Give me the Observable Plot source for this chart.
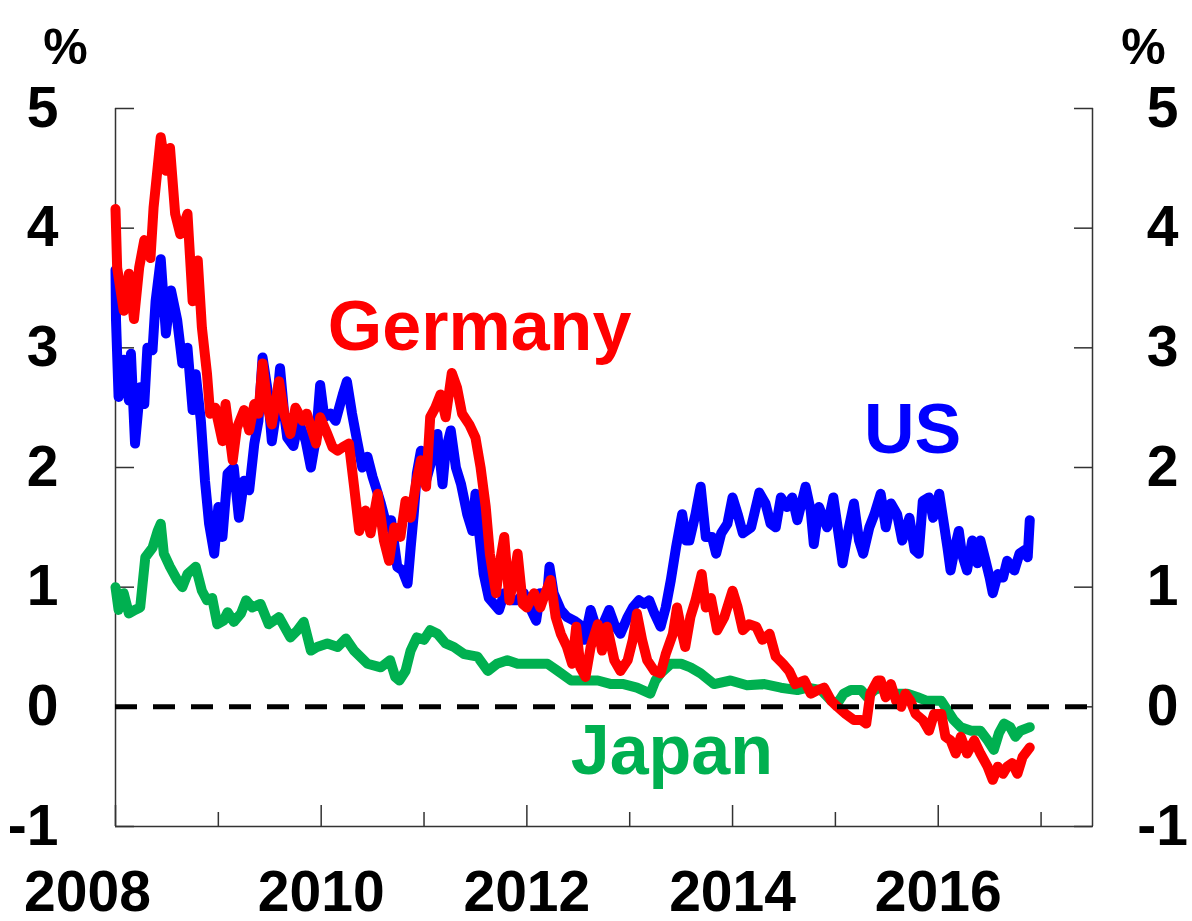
<!DOCTYPE html>
<html>
<head>
<meta charset="utf-8">
<script src="https://cdn.jsdelivr.net/npm/d3@7"></script>
<script src="https://cdn.jsdelivr.net/npm/@observablehq/plot@0.6"></script>
<style>
  html, body { margin: 0; padding: 0; background: #fff; }
  #chart svg { display: block; }
</style>
</head>
<body>
<div id="chart"></div>
<script>
// 10-year government bond yields, % (decimal year, value)
const us = [
  [2008.00,3.65],[2008.005,3.23],[2008.03,2.59],[2008.08,2.9],[2008.13,2.56],[2008.15,2.95],[2008.19,2.2],
  [2008.24,2.67],[2008.28,2.53],[2008.31,3.0],[2008.36,2.98],[2008.39,3.39],[2008.44,3.74],[2008.49,3.12],
  [2008.54,3.48],[2008.60,3.23],[2008.65,2.87],[2008.70,3.0],[2008.75,2.48],[2008.78,2.78],[2008.83,2.39],
  [2008.87,1.89],[2008.91,1.53],[2008.96,1.28],[2009.00,1.67],[2009.04,1.42],[2009.09,1.95],[2009.15,2.0],
  [2009.20,1.58],[2009.25,1.89],[2009.30,1.81],[2009.35,2.2],[2009.39,2.39],[2009.43,2.92],[2009.48,2.64],
  [2009.52,2.22],[2009.56,2.45],[2009.60,2.83],[2009.64,2.45],[2009.67,2.25],[2009.73,2.18],[2009.78,2.39],
  [2009.85,2.22],[2009.90,2.0],[2009.95,2.25],[2009.99,2.69],[2010.03,2.42],[2010.09,2.45],[2010.14,2.39],
  [2010.21,2.61],[2010.25,2.72],[2010.30,2.45],[2010.35,2.22],[2010.40,2.0],[2010.45,2.09],[2010.50,1.92],
  [2010.53,1.84],[2010.58,1.7],[2010.64,1.5],[2010.68,1.56],[2010.74,1.17],[2010.79,1.14],[2010.84,1.03],
  [2010.87,1.33],[2010.90,1.61],[2010.93,1.95],[2010.97,2.14],[2011.02,1.89],[2011.08,2.08],[2011.13,2.28],
  [2011.18,1.86],[2011.21,2.14],[2011.26,2.31],[2011.31,2.0],[2011.36,1.86],[2011.42,1.61],[2011.47,1.47],
  [2011.50,1.78],[2011.53,1.5],[2011.58,1.11],[2011.63,0.91],[2011.68,0.86],[2011.73,0.81],[2011.78,0.95],
  [2011.84,0.89],[2011.91,0.89],[2011.97,0.95],[2012.04,0.81],[2012.09,0.72],[2012.13,0.95],[2012.20,0.95],
  [2012.22,1.17],[2012.26,0.95],[2012.33,0.81],[2012.39,0.75],[2012.46,0.72],[2012.51,0.69],[2012.56,0.56],
  [2012.62,0.81],[2012.67,0.67],[2012.73,0.67],[2012.80,0.81],[2012.85,0.69],[2012.91,0.61],[2012.98,0.75],
  [2013.03,0.83],[2013.09,0.89],[2013.14,0.86],[2013.19,0.89],[2013.24,0.78],[2013.30,0.67],[2013.35,0.83],
  [2013.40,1.06],[2013.45,1.33],[2013.48,1.47],[2013.51,1.61],[2013.55,1.39],[2013.58,1.39],[2013.64,1.61],
  [2013.69,1.84],[2013.74,1.42],[2013.80,1.42],[2013.84,1.28],[2013.89,1.45],[2013.95,1.53],[2014.00,1.75],
  [2014.05,1.61],[2014.10,1.45],[2014.18,1.5],[2014.26,1.79],[2014.32,1.7],[2014.37,1.53],[2014.42,1.5],
  [2014.47,1.75],[2014.53,1.67],[2014.58,1.75],[2014.63,1.56],[2014.71,1.84],[2014.76,1.64],[2014.79,1.36],
  [2014.84,1.67],[2014.92,1.5],[2014.98,1.75],[2015.04,1.39],[2015.07,1.2],[2015.12,1.45],[2015.18,1.7],
  [2015.23,1.39],[2015.27,1.28],[2015.33,1.5],[2015.38,1.61],[2015.44,1.78],[2015.49,1.5],[2015.54,1.7],
  [2015.60,1.61],[2015.65,1.39],[2015.72,1.58],[2015.77,1.31],[2015.81,1.28],[2015.85,1.72],[2015.91,1.75],
  [2015.95,1.58],[2016.01,1.78],[2016.06,1.5],[2016.09,1.33],[2016.12,1.14],[2016.17,1.36],[2016.20,1.47],
  [2016.23,1.28],[2016.28,1.14],[2016.33,1.39],[2016.38,1.2],[2016.41,1.39],[2016.46,1.22],[2016.50,1.08],
  [2016.53,0.95],[2016.58,1.11],[2016.63,1.08],[2016.67,1.22],[2016.74,1.14],[2016.79,1.28],[2016.84,1.31],
  [2016.87,1.25],[2016.89,1.56]
];

const germany = [
  [2008.00,4.16],[2008.016,3.67],[2008.08,3.31],[2008.13,3.62],[2008.18,3.24],[2008.23,3.67],[2008.28,3.9],
  [2008.34,3.75],[2008.37,4.17],[2008.44,4.76],[2008.49,4.48],[2008.53,4.67],[2008.58,4.12],[2008.63,3.95],
  [2008.70,4.12],[2008.75,3.39],[2008.80,3.73],[2008.84,3.17],[2008.89,2.78],[2008.92,2.45],[2008.97,2.5],
  [2009.04,2.22],[2009.07,2.53],[2009.14,2.06],[2009.18,2.33],[2009.25,2.48],[2009.30,2.31],[2009.35,2.53],
  [2009.39,2.45],[2009.43,2.87],[2009.48,2.5],[2009.52,2.36],[2009.59,2.72],[2009.64,2.45],[2009.70,2.28],
  [2009.75,2.5],[2009.82,2.39],[2009.86,2.45],[2009.95,2.2],[2009.99,2.42],[2010.06,2.28],[2010.11,2.17],
  [2010.16,2.14],[2010.21,2.17],[2010.27,2.2],[2010.32,1.84],[2010.37,1.47],[2010.43,1.64],[2010.48,1.45],
  [2010.55,1.78],[2010.61,1.39],[2010.66,1.22],[2010.71,1.5],[2010.77,1.42],[2010.82,1.72],[2010.87,1.58],
  [2010.92,1.86],[2010.97,2.06],[2011.02,1.84],[2011.06,2.42],[2011.11,2.5],[2011.16,2.61],[2011.21,2.42],
  [2011.27,2.79],[2011.32,2.67],[2011.37,2.45],[2011.44,2.36],[2011.50,2.25],[2011.55,2.0],[2011.60,1.67],
  [2011.64,1.28],[2011.70,0.95],[2011.73,1.17],[2011.78,1.42],[2011.83,0.89],[2011.87,1.06],[2011.91,1.28],
  [2011.96,0.86],[2012.00,0.83],[2012.07,0.95],[2012.13,0.83],[2012.18,0.95],[2012.23,1.06],[2012.28,0.75],
  [2012.33,0.61],[2012.39,0.5],[2012.44,0.36],[2012.48,0.67],[2012.52,0.33],[2012.57,0.25],[2012.62,0.5],
  [2012.69,0.69],[2012.73,0.47],[2012.78,0.67],[2012.85,0.39],[2012.91,0.3],[2012.98,0.39],[2013.03,0.56],
  [2013.07,0.78],[2013.12,0.56],[2013.17,0.39],[2013.24,0.3],[2013.30,0.28],[2013.35,0.44],[2013.42,0.61],
  [2013.46,0.83],[2013.51,0.61],[2013.54,0.5],[2013.59,0.75],[2013.64,0.89],[2013.70,1.11],[2013.74,0.83],
  [2013.79,0.91],[2013.85,0.64],[2013.92,0.75],[2014.00,0.97],[2014.05,0.83],[2014.10,0.64],[2014.16,0.69],
  [2014.23,0.67],[2014.29,0.56],[2014.36,0.61],[2014.42,0.42],[2014.49,0.36],[2014.55,0.3],[2014.61,0.19],
  [2014.70,0.22],[2014.76,0.11],[2014.83,0.14],[2014.89,0.16],[2014.96,0.05],[2015.02,0.0],[2015.10,-0.06],
  [2015.18,-0.11],[2015.25,-0.11],[2015.30,-0.14],[2015.34,0.11],[2015.41,0.22],[2015.44,0.22],[2015.49,0.08],
  [2015.54,0.19],[2015.59,0.05],[2015.64,0.0],[2015.68,0.11],[2015.73,0.05],[2015.78,-0.06],[2015.85,-0.11],
  [2015.91,-0.2],[2015.96,-0.06],[2016.03,-0.06],[2016.07,-0.25],[2016.12,-0.28],[2016.17,-0.39],[2016.22,-0.25],
  [2016.28,-0.39],[2016.35,-0.28],[2016.41,-0.39],[2016.48,-0.5],[2016.53,-0.61],[2016.58,-0.5],[2016.63,-0.56],
  [2016.67,-0.5],[2016.72,-0.47],[2016.77,-0.56],[2016.82,-0.42],[2016.89,-0.34]
];

const japan = [
  [2008.00,1.0],[2008.03,0.81],[2008.08,0.95],[2008.13,0.78],[2008.19,0.81],[2008.24,0.83],[2008.29,1.25],
  [2008.36,1.33],[2008.41,1.47],[2008.44,1.53],[2008.47,1.28],[2008.53,1.17],[2008.60,1.06],[2008.65,1.0],
  [2008.70,1.11],[2008.78,1.17],[2008.84,0.97],[2008.89,0.89],[2008.94,0.91],[2008.99,0.69],[2009.05,0.72],
  [2009.09,0.79],[2009.15,0.71],[2009.22,0.78],[2009.27,0.89],[2009.33,0.83],[2009.41,0.86],[2009.49,0.69],
  [2009.59,0.75],[2009.70,0.58],[2009.77,0.64],[2009.83,0.71],[2009.90,0.47],[2009.96,0.5],[2010.06,0.53],
  [2010.16,0.5],[2010.24,0.57],[2010.32,0.47],[2010.45,0.36],[2010.58,0.33],[2010.67,0.39],[2010.72,0.25],
  [2010.76,0.22],[2010.82,0.3],[2010.87,0.47],[2010.93,0.58],[2011.00,0.56],[2011.06,0.64],[2011.13,0.61],
  [2011.21,0.53],[2011.29,0.5],[2011.39,0.44],[2011.52,0.42],[2011.62,0.3],[2011.71,0.36],[2011.81,0.39],
  [2011.91,0.36],[2012.04,0.36],[2012.20,0.36],[2012.30,0.3],[2012.43,0.22],[2012.56,0.22],[2012.69,0.22],
  [2012.82,0.19],[2012.94,0.19],[2013.07,0.16],[2013.20,0.11],[2013.25,0.22],[2013.30,0.28],[2013.40,0.36],
  [2013.50,0.36],[2013.59,0.33],[2013.69,0.28],[2013.82,0.19],[2013.98,0.22],[2014.14,0.18],[2014.31,0.19],
  [2014.47,0.16],[2014.63,0.14],[2014.73,0.16],[2014.86,0.14],[2014.96,0.05],[2015.02,0.03],[2015.08,0.11],
  [2015.15,0.14],[2015.25,0.14],[2015.31,0.08],[2015.38,0.14],[2015.44,0.16],[2015.57,0.11],[2015.70,0.11],
  [2015.80,0.08],[2015.89,0.05],[2016.03,0.05],[2016.09,-0.03],[2016.15,-0.11],[2016.22,-0.17],[2016.32,-0.2],
  [2016.41,-0.2],[2016.48,-0.28],[2016.54,-0.36],[2016.59,-0.22],[2016.64,-0.14],[2016.70,-0.17],[2016.75,-0.25],
  [2016.80,-0.2],[2016.89,-0.17]
];

const yTicks = [-1, 0, 1, 2, 3, 4, 5];
const firstYear = [2008];
const majorYears = [2010, 2012, 2014, 2016];
const minorYears = [2009, 2011, 2013, 2015, 2017];
const xDomain = [2008, 2017.5];
const yDomain = [-1, 5];
const unitLabel = "%";
const seriesLabels = [
  {name: "Germany", x: 2011.54, y: 3.17},
  {name: "US", x: 2015.75, y: 2.31},
  {name: "Japan", x: 2013.41, y: -0.37}
];

const FONT = "'Liberation Sans', Arial, Helvetica, sans-serif";
const RED = "#ff0000", BLUE = "#0000ff", GREEN = "#00b050";
const AX = "#333";
const LW = 10;
const fmt = d => String(d);
const yearAxis = {anchor: "bottom", tickSize: -21, tickPadding: 65, tickFormat: fmt,
  fontSize: 57, fontWeight: "bold", stroke: AX, strokeWidth: 1.5, fill: "#000", label: null};

const chart = Plot.plot({
  width: 1192,
  height: 921,
  marginLeft: 115,
  marginRight: 100,
  marginTop: 108,
  marginBottom: 95,
  x: {domain: xDomain},
  y: {domain: yDomain},
  style: {fontFamily: FONT, background: "#ffffff", color: "#000"},
  marks: [
    // frame: left, right, bottom
    Plot.ruleX([xDomain[0]], {stroke: AX, strokeWidth: 1.5}),
    Plot.ruleX([xDomain[1]], {stroke: AX, strokeWidth: 1.5}),
    Plot.ruleY([yDomain[0]], {stroke: AX, strokeWidth: 1.5}),
    // axes with inward ticks
    Plot.axisY(yTicks, {anchor: "left", tickSize: -19, tickPadding: 76, tickFormat: fmt,
      fontSize: 57, fontWeight: "bold", stroke: AX, strokeWidth: 1.5, fill: "#000", label: null}),
    Plot.axisY(yTicks, {anchor: "right", tickSize: -19, tickPadding: 0, tickFormat: () => "",
      stroke: AX, strokeWidth: 1.5, label: null}),
    Plot.text(yTicks, {y: d => d, text: fmt, frameAnchor: "right", dx: 70, textAnchor: "middle",
      fontSize: 57, fontWeight: "bold", fill: "#000"}),
    Plot.axisX(firstYear, {...yearAxis, tickSize: 0, tickPadding: 44, dx: -28}),
    Plot.axisX(firstYear, {anchor: "bottom", tickSize: -21, tickFormat: () => "", stroke: AX, strokeWidth: 1.5, label: null}),
    Plot.axisX(majorYears, yearAxis),
    Plot.axisX(minorYears, {anchor: "bottom", tickSize: -14, tickPadding: 0, tickFormat: () => "",
      stroke: AX, strokeWidth: 1.5, label: null}),
    // unit labels
    Plot.text([unitLabel], {frameAnchor: "top-left", dx: -50, dy: -61, textAnchor: "middle", lineAnchor: "middle",
      fontSize: 50, fontWeight: "bold", fill: "#000"}),
    Plot.text([unitLabel], {frameAnchor: "top-right", dx: 51, dy: -61, textAnchor: "middle", lineAnchor: "middle",
      fontSize: 50, fontWeight: "bold", fill: "#000"}),
    // series
    Plot.line(japan, {x: d => d[0], y: d => d[1], stroke: GREEN, strokeWidth: LW,
      strokeLinejoin: "round", strokeLinecap: "round"}),
    Plot.line(us, {x: d => d[0], y: d => d[1], stroke: BLUE, strokeWidth: LW,
      strokeLinejoin: "round", strokeLinecap: "round"}),
    Plot.line(germany, {x: d => d[0], y: d => d[1], stroke: RED, strokeWidth: LW,
      strokeLinejoin: "round", strokeLinecap: "round"}),
    // zero line
    Plot.ruleY([0], {stroke: "#000", strokeWidth: 5, strokeDasharray: "22,16"}),
    // series labels
    Plot.text([seriesLabels[0]], {x: "x", y: "y", text: "name", fill: RED, fontSize: 70, fontWeight: "bold"}),
    Plot.text([seriesLabels[1]], {x: "x", y: "y", text: "name", fill: BLUE, fontSize: 70, fontWeight: "bold"}),
    Plot.text([seriesLabels[2]], {x: "x", y: "y", text: "name", fill: GREEN, fontSize: 70, fontWeight: "bold"})
  ]
});
document.getElementById("chart").appendChild(chart);
</script>
</body>
</html>
